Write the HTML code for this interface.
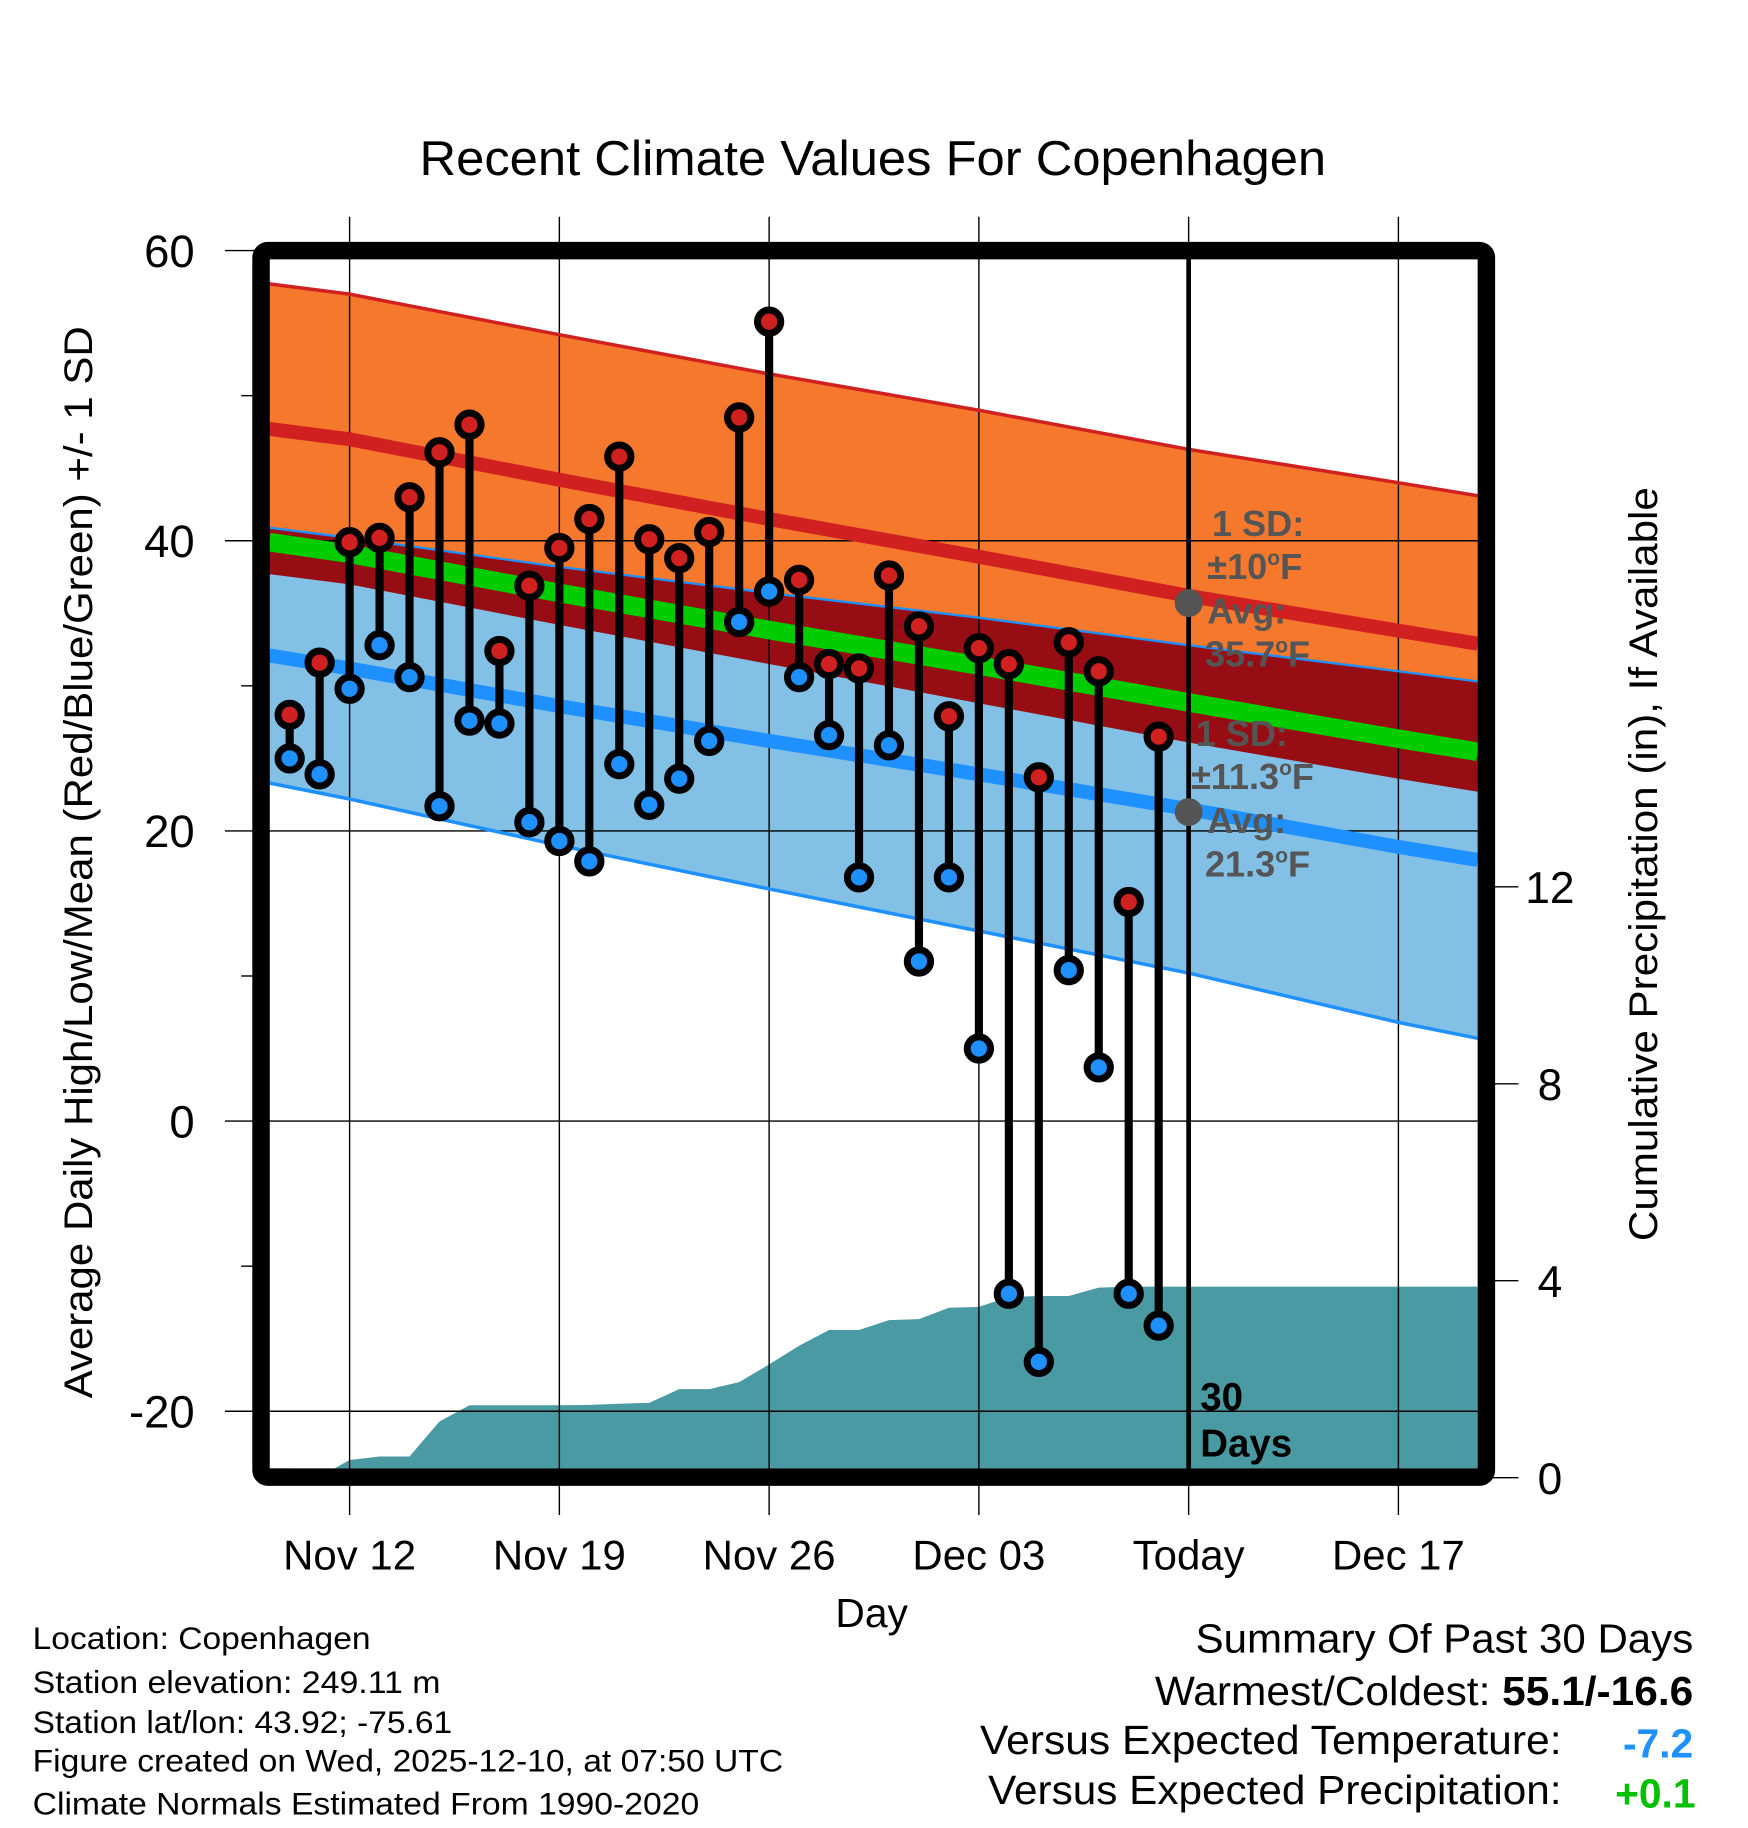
<!DOCTYPE html>
<html><head><meta charset="utf-8"><style>
html,body{margin:0;padding:0;background:#fff}
svg{display:block;font-family:"Liberation Sans",sans-serif}
</style></head><body>
<svg id="chart" width="1748" height="1828" viewBox="0 0 1500 1568.6" xmlns="http://www.w3.org/2000/svg">
<g id="bands"></g>
<g id="precip"></g>
<g id="grid"></g>
<g id="lines"></g>
<g id="marks"></g>
<g id="axes"></g>
<text x="360" y="150" font-size="42" textLength="778" lengthAdjust="spacingAndGlyphs">Recent Climate Values For Copenhagen</text>
<text transform="translate(79,1200) rotate(-90)" font-size="34" textLength="920" lengthAdjust="spacingAndGlyphs">Average Daily High/Low/Mean (Red/Blue/Green) +/- 1 SD</text>
<text transform="translate(1422,1065) rotate(-90)" font-size="34" textLength="647" lengthAdjust="spacingAndGlyphs">Cumulative Precipitation (in), If Available</text>
<text x="748" y="1396" font-size="35" text-anchor="middle">Day</text>
<g font-size="31" font-weight="bold" fill="#555">
<text x="1040" y="460">1 SD:</text><text x="1036" y="497">±10<tspan font-size="18" dy="-12">o</tspan><tspan dy="12">F</tspan></text>
<text x="1036" y="535">Avg:</text><text x="1034" y="572">35.7<tspan font-size="18" dy="-12">o</tspan><tspan dy="12">F</tspan></text>
</g>
<g font-size="31" font-weight="bold" fill="#555">
<text x="1026" y="640">1 SD:</text><text x="1022" y="677">±11.3<tspan font-size="18" dy="-12">o</tspan><tspan dy="12">F</tspan></text>
<text x="1036" y="715">Avg:</text><text x="1034" y="752">21.3<tspan font-size="18" dy="-12">o</tspan><tspan dy="12">F</tspan></text>
</g>
<g font-size="33" font-weight="bold"><text x="1030" y="1210">30</text><text x="1030" y="1250">Days</text></g>
<g font-size="27" lengthAdjust="spacingAndGlyphs">
<text x="28" y="1415" textLength="290" lengthAdjust="spacingAndGlyphs">Location: Copenhagen</text>
<text x="28" y="1453" textLength="350" lengthAdjust="spacingAndGlyphs">Station elevation: 249.11 m</text>
<text x="28" y="1487" textLength="360" lengthAdjust="spacingAndGlyphs">Station lat/lon: 43.92; -75.61</text>
<text x="28" y="1520" textLength="644" lengthAdjust="spacingAndGlyphs">Figure created on Wed, 2025-12-10, at 07:50 UTC</text>
<text x="28" y="1557" textLength="572" lengthAdjust="spacingAndGlyphs">Climate Normals Estimated From 1990-2020</text>
</g>
<g font-size="35">
<text x="1026" y="1418" textLength="427" lengthAdjust="spacingAndGlyphs">Summary Of Past 30 Days</text>
<text x="991" y="1463" textLength="462" lengthAdjust="spacingAndGlyphs">Warmest/Coldest: <tspan font-weight="bold">55.1/-16.6</tspan></text>
<text x="841" y="1505" textLength="499" lengthAdjust="spacingAndGlyphs">Versus Expected Temperature:</text>
<text x="1453" y="1508" text-anchor="end" font-weight="bold" fill="#1e90ff">-7.2</text>
<text x="848" y="1548" textLength="492" lengthAdjust="spacingAndGlyphs">Versus Expected Precipitation:</text>
<text x="1455" y="1551" text-anchor="end" font-weight="bold" fill="#00c000">+0.1</text>
</g>
</svg>
<script>
// ---- data ----
const tickLabels = ["Nov 12","Nov 19","Nov 26","Dec 03","Today","Dec 17"];
const tickDays = [0,7,14,21,28,35];
const yTicks = [60,40,20,0,-20];
const yMinorTicks = [50,30,10,-10];
const pTicks = [0,4,8,12];
// normals sampled at days (day 0 = Nov 12)
const normDays = [-2.68,0,7,14,21,28,35,37.65];
const highMean = [47.7,47.0,44.2,41.5,38.9,36.2,33.8,32.9];
const highSD = [10,10,10,10,10.1,10.1,10.2,10.2];
const lowMean = [32.1,31.2,28.6,26.2,23.9,21.5,18.9,18.0];
const lowSD = [8.8,9.0,9.6,10.2,10.8,11.3,12.1,12.3];
// daily data Nov 10 .. Dec 9 (first day = -2)
const highs = [28.0,31.6,39.9,40.2,43.0,46.1,48.0,32.4,36.9,39.5,41.5,45.8,40.1,38.8,40.6,48.5,55.1,37.3,31.5,31.2,37.6,34.1,27.9,32.6,31.5,23.7,33.0,31.0,15.1,26.5];
const lows = [25.0,23.9,29.8,32.8,30.6,21.7,27.6,27.4,20.6,19.3,17.9,24.6,21.8,23.6,26.2,34.4,36.5,30.6,26.6,16.8,25.9,11.0,16.8,5.0,-11.9,-16.6,10.4,3.7,-11.9,-14.1];
const precip = [0,0,0.36,0.43,0.43,1.14,1.47,1.47,1.47,1.47,1.48,1.50,1.52,1.80,1.80,1.94,2.30,2.68,3.00,3.00,3.20,3.22,3.45,3.47,3.67,3.69,3.69,3.86,3.88,3.88];
const firstDay = -2;

const NS="http://www.w3.org/2000/svg";
const X0=231,X1=1268,Y0=222,Y1=1260;
const xd = d => 300 + d*180/7;
const yT = t => 962 - 12.45*t;
const yP = p => 1268 - p*42.25;
function mk(tag, attrs, parent){const e=document.createElementNS(NS,tag);for(const k in attrs)e.setAttribute(k,attrs[k]);parent.appendChild(e);return e;}
const $=id=>document.getElementById(id);
function pts(vals){return normDays.map((d,i)=>xd(d).toFixed(1)+","+yT(vals[i]).toFixed(1));}
const hiU=highMean.map((m,i)=>m+highSD[i]), hiL=highMean.map((m,i)=>m-highSD[i]);
const loU=lowMean.map((m,i)=>m+lowSD[i]), loL=lowMean.map((m,i)=>m-lowSD[i]);
const mean=highMean.map((m,i)=>(m+lowMean[i])/2);
const bands=$("bands");
let e;
e=mk("polygon",{points:pts(hiU).concat(pts(hiL).reverse()).join(" "),fill:"#f5782d"},bands);


e=mk("polygon",{points:pts(loU).concat(pts(loL).reverse()).join(" "),fill:"#82c0e6"},bands);


e=mk("polygon",{points:pts(loU).concat(pts(hiL).reverse()).join(" "),fill:"#960e14"},bands);


// precipitation
const pp=[X0+","+Y1];
pp.push(X0+","+yP(0));
precip.forEach((p,i)=>pp.push(xd(firstDay+i+(i===1?0.5:0)).toFixed(1)+","+Math.min(yP(p),Y1).toFixed(1)));
pp.push(X1+","+yP(precip[precip.length-1]).toFixed(1));
pp.push(X1+","+Y1);
e=mk("polygon",{points:pp.join(" "),fill:"#4a9aa3"},$("precip"));


// grid
const grid=$("grid");
tickDays.forEach((d,i)=>{
  e=mk("line",{x1:xd(d),x2:xd(d),y1:186,y2:1300,stroke:"#000","stroke-width":1.2},grid);
  
  
  e=mk("text",{x:xd(d),y:1347,"font-size":36,"text-anchor":"middle"},grid);
  e.textContent=tickLabels[i];
  
  
});
yTicks.forEach(t=>{
  e=mk("line",{x1:193,x2:X1,y1:yT(t),y2:yT(t),stroke:"#000","stroke-width":1.2},grid);
  
  
  e=mk("text",{x:167,y:yT(t)+14,"font-size":39,"text-anchor":"end"},grid);
  e.textContent=t;
  
  
});
yMinorTicks.forEach(t=>{
  e=mk("line",{x1:207,x2:220,y1:yT(t),y2:yT(t),stroke:"#000","stroke-width":1.2},grid);
  
  
});
pTicks.forEach(p=>{
  e=mk("line",{x1:1280,x2:1303,y1:yP(p),y2:yP(p),stroke:"#000","stroke-width":1.2},grid);
  
  
  e=mk("text",{x:1330,y:yP(p)+14,"font-size":38,"text-anchor":"middle"},grid);
  e.textContent=p;
  
  
});
// lines
const lines=$("lines");
function pl(vals,color,w,name){
  const el=mk("polyline",{points:pts(vals).join(" "),fill:"none",stroke:color,"stroke-width":w},lines);
  
  
}
pl(hiU,"#d02020",3,"high-upper-line");
pl(loU,"#1e90ff",2,"low-upper-line");
pl(loL,"#1e90ff",3,"low-lower-line");
pl(mean,"#00cc00",16,"mean-line");
pl(highMean,"#d02020",12,"high-mean-line");
pl(lowMean,"#1e90ff",12,"low-mean-line");
// today line
e=mk("line",{x1:xd(28),x2:xd(28),y1:210,y2:Y1,stroke:"#000","stroke-width":4},lines);


e=mk("circle",{cx:xd(28),cy:yT(35.7),r:12,fill:"#555"},lines);


e=mk("circle",{cx:xd(28),cy:yT(21.3),r:12,fill:"#555"},lines);


// marks
const marks=$("marks");
highs.forEach((h,i)=>{
  const x=xd(firstDay+i), lo=lows[i];
  e=mk("line",{x1:x,x2:x,y1:yT(h),y2:yT(lo),stroke:"#000","stroke-width":7},marks);
  
  
  e=mk("circle",{cx:x,cy:yT(h),r:10,fill:"#d02020",stroke:"#000","stroke-width":6},marks);
  
  
  e=mk("circle",{cx:x,cy:yT(lo),r:10,fill:"#1e90ff",stroke:"#000","stroke-width":6},marks);
  
  
});
// frame
e=mk("rect",{x:224,y:215,width:1051.5,height:1052.5,rx:6,fill:"none",stroke:"#000","stroke-width":15},$("axes"));


</script>
</body></html>
